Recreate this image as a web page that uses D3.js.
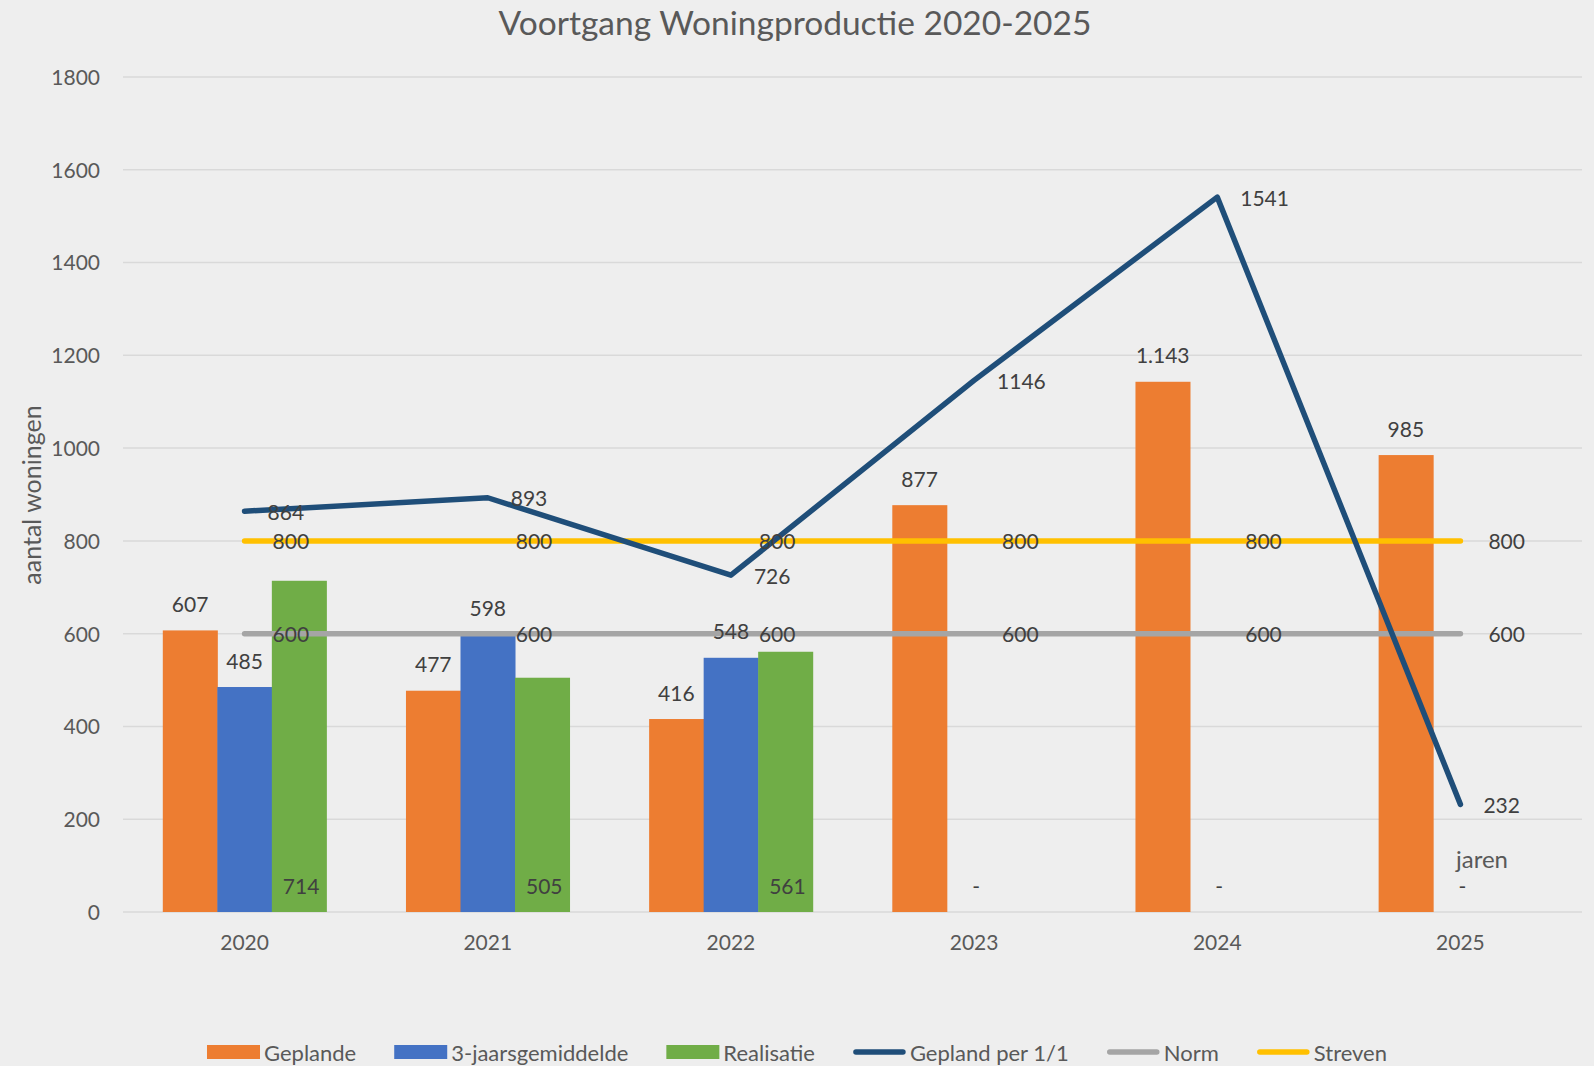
<!DOCTYPE html>
<html>
<head>
<meta charset="utf-8">
<script src="https://cdn.jsdelivr.net/npm/d3@7"></script>
<style>
  body { margin: 0; background: #eeeeee; }
  svg { display: block; }
</style>
</head>
<body>
<svg id="chart" width="1594" height="1066"></svg>
<script>
// data
var jaren = ["2020", "2021", "2022", "2023", "2024", "2025"];
var geplande = [607, 477, 416, 877, 1143, 985];
var gemiddelde = [485, 598, 548, null, null, null];
var realisatie = [714, 505, 561, 0, 0, 0];
var geplandPer = [864, 893, 726, 1146, 1541, 232];
var norm = [600, 600, 600, 600, 600, 600];
var streven = [800, 800, 800, 800, 800, 800];
var yTicks = [0, 200, 400, 600, 800, 1000, 1200, 1400, 1600, 1800];

var fontFam = "Lato, 'Open Sans', sans-serif";
var svg = d3.select("#chart");

svg.append("rect").attr("x", 0).attr("y", 0).attr("width", 1594).attr("height", 1066).style("fill", "#eeeeee");

var x = d3.scaleBand().domain(jaren).range([123, 1582]).padding(0);
var sub = d3.scaleBand().domain(["g", "m", "r"]).range([0, x.bandwidth()]).paddingInner(0).paddingOuter(0.73);
var y = d3.scaleLinear().domain([0, 1800]).range([912, 77]);

var nl = d3.formatLocale({decimal: ",", thousands: ".", grouping: [3], currency: ["€", ""]});
var fNl = nl.format(",");

// title
svg.append("text").attr("x", 795).attr("y", 22).text("Voortgang Woningproductie 2020-2025")
  .style("font-family", fontFam).style("font-size", "33.5px").style("fill", "#595959")
  .attr("text-anchor", "middle").attr("dominant-baseline", "central");

// gridlines
svg.append("g").selectAll("line").data(yTicks).enter().append("line")
  .attr("x1", 123).attr("x2", 1582)
  .attr("y1", function(d){ return y(d); }).attr("y2", function(d){ return y(d); })
  .style("stroke", "#d9d9d9").style("stroke-width", 1.5);

// y axis labels
var yAxis = d3.axisLeft(y).tickValues(yTicks).tickSize(0).tickPadding(0).tickFormat(d3.format("d"));
var ya = svg.append("g").attr("transform", "translate(100,0)").call(yAxis);
ya.select(".domain").remove();
ya.selectAll("text").style("font-family", fontFam).style("font-size", "21px").style("fill", "#595959").attr("dy", "0.35em");

// x axis labels
var xAxis = d3.axisBottom(x).tickSize(0).tickPadding(0);
var xa = svg.append("g").attr("transform", "translate(0,943)").call(xAxis);
xa.select(".domain").remove();
xa.selectAll("text").style("font-family", fontFam).style("font-size", "21px").style("fill", "#595959").attr("dy", "0.35em");

// axis titles
svg.append("text").attr("transform", "translate(31,495) rotate(-90)").text("aantal woningen")
  .style("font-family", fontFam).style("font-size", "25px").style("fill", "#595959")
  .attr("text-anchor", "middle").attr("dominant-baseline", "central");
svg.append("text").attr("x", 1482).attr("y", 858).text("jaren")
  .style("font-family", fontFam).style("font-size", "24px").style("fill", "#595959")
  .attr("text-anchor", "middle").attr("dominant-baseline", "central");

// bars
function bars(vals, key, color) {
  svg.append("g").selectAll("rect").data(jaren).enter()
    .filter(function(d, i){ return vals[i] != null && vals[i] > 0; })
    .append("rect")
    .attr("x", function(d){ return x(d) + sub(key); })
    .attr("width", sub.bandwidth() + 0.5)
    .attr("y", function(d){ return y(vals[jaren.indexOf(d)]); })
    .attr("height", function(d){ return y(0) - y(vals[jaren.indexOf(d)]); })
    .style("fill", color);
}
bars(geplande, "g", "#ed7d31");
bars(gemiddelde, "m", "#4472c4");
bars(realisatie, "r", "#70ad47");

// lines
var line = d3.line().x(function(d, i){ return x(jaren[i]) + x.bandwidth() / 2; }).y(function(d){ return y(d); });
function drawLine(vals, color) {
  svg.append("path").datum(vals).attr("d", line)
    .style("fill", "none").style("stroke", color).style("stroke-width", 5.5)
    .style("stroke-linecap", "round").style("stroke-linejoin", "round");
}
drawLine(norm, "#a5a5a5");
drawLine(streven, "#ffc000");
drawLine(geplandPer, "#1f4e79");

var labelStyle = function(sel) {
  sel.style("font-family", fontFam).style("font-size", "21px").style("fill", "#404040")
    .attr("dominant-baseline", "central");
};

// line labels (right of point)
function lineLabels(vals, dx) {
  svg.append("g").selectAll("text").data(vals).enter().append("text")
    .attr("x", function(d, i){ return x(jaren[i]) + x.bandwidth() / 2 + dx; })
    .attr("y", function(d){ return y(d); })
    .text(function(d){ return d; })
    .call(labelStyle);
}
lineLabels(streven, 28);
lineLabels(norm, 28);
lineLabels(geplandPer, 23);

// bar labels above
function barLabels(vals, key, fmt) {
  svg.append("g").selectAll("text").data(jaren).enter()
    .filter(function(d, i){ return vals[i] != null; })
    .append("text")
    .attr("x", function(d){ return x(d) + sub(key) + sub.bandwidth() / 2; })
    .attr("y", function(d){ return y(vals[jaren.indexOf(d)]) - 27; })
    .attr("text-anchor", "middle")
    .text(function(d){ return fmt(vals[jaren.indexOf(d)]); })
    .call(labelStyle);
}
barLabels(geplande, "g", fNl);
barLabels(gemiddelde, "m", d3.format("d"));

// realisatie labels inside base, "-" for zero
svg.append("g").selectAll("text").data(jaren).enter().append("text")
  .attr("x", function(d, i){ return realisatie[i] > 0 ? x(d) + sub("r") + sub.bandwidth() / 2 + 2 : x(d) + x.bandwidth() / 2 + 2; })
  .attr("y", y(0) - 27)
  .attr("text-anchor", "middle")
  .text(function(d, i){ return realisatie[i] > 0 ? realisatie[i] : "-"; })
  .call(labelStyle);

// legend
var legendItems = [
  {name: "Geplande", color: "#ed7d31", type: "bar"},
  {name: "3-jaarsgemiddelde", color: "#4472c4", type: "bar"},
  {name: "Realisatie", color: "#70ad47", type: "bar"},
  {name: "Gepland per 1/1", color: "#1f4e79", type: "line"},
  {name: "Norm", color: "#a5a5a5", type: "line"},
  {name: "Streven", color: "#ffc000", type: "line"}
];
var lg = svg.append("g");
var lx = 0, ly = 1052;
legendItems.forEach(function(it) {
  if (it.type == "bar") {
    lg.append("rect").attr("x", lx).attr("y", ly - 7).attr("width", 53).attr("height", 14).style("fill", it.color);
  } else {
    lg.append("line").attr("x1", lx + 3).attr("x2", lx + 50).attr("y1", ly).attr("y2", ly)
      .style("stroke", it.color).style("stroke-width", 5.5).style("stroke-linecap", "round");
  }
  var t = lg.append("text").attr("x", lx + 57).attr("y", ly).text(it.name)
    .style("font-family", fontFam).style("font-size", "22px").style("fill", "#595959")
    .attr("dominant-baseline", "central");
  lx = lx + 57 + t.node().getComputedTextLength() + 38;
});
lx = lx - 38;
lg.attr("transform", "translate(" + (797 - lx / 2) + ",0)");
</script>
</body>
</html>
